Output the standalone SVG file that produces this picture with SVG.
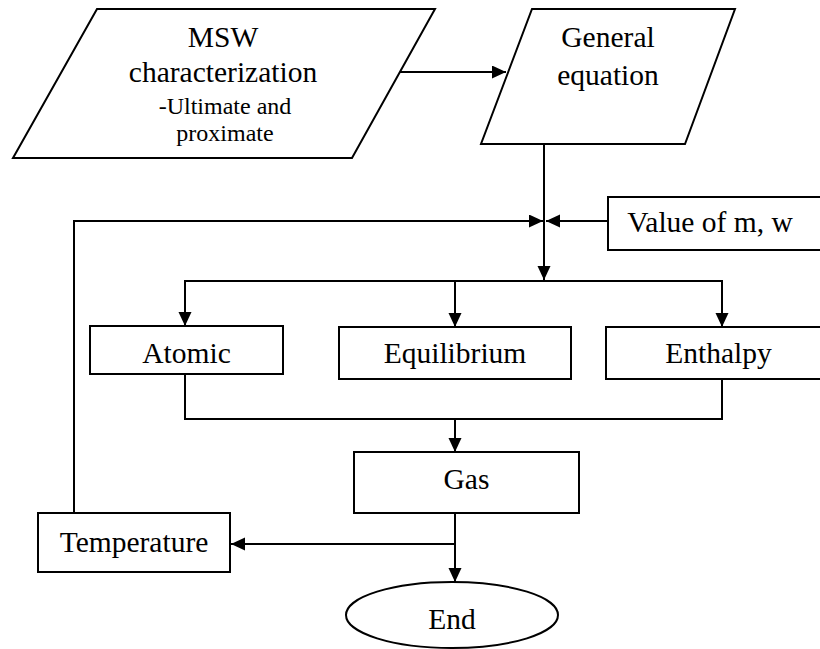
<svg xmlns="http://www.w3.org/2000/svg" width="820" height="649" viewBox="0 0 820 649">
<style>
.shape{fill:#fff;stroke:#000;stroke-width:2}
.conn{fill:none;stroke:#000;stroke-width:2}
text{font-family:"Liberation Serif","Times New Roman",serif;font-size:29.5px;fill:#000;text-anchor:middle}
.small{font-size:24px}
</style>
<defs>
<marker id="arr" markerUnits="userSpaceOnUse" markerWidth="14" markerHeight="14" refX="14" refY="6.5" orient="auto">
<path d="M0,0 L14,6.5 L0,13 z" fill="#000"/>
</marker>
</defs>
<rect width="820" height="649" fill="#fff"/>
<g id="connectors">
<line class="conn" x1="400" y1="72" x2="506" y2="72" marker-end="url(#arr)"/>
<line class="conn" x1="544" y1="144" x2="544" y2="280" marker-end="url(#arr)"/>
<polyline class="conn" points="74,513 74,221 543,221" marker-end="url(#arr)"/>
<line class="conn" x1="608" y1="221" x2="546" y2="221" marker-end="url(#arr)"/>
<line class="conn" x1="185" y1="281" x2="722" y2="281"/>
<line class="conn" x1="185" y1="280" x2="185" y2="326" marker-end="url(#arr)"/>
<line class="conn" x1="455" y1="281" x2="455" y2="327" marker-end="url(#arr)"/>
<line class="conn" x1="722" y1="280" x2="722" y2="327" marker-end="url(#arr)"/>
<polyline class="conn" points="185,374 185,419 722,419 722,379"/>
<line class="conn" x1="455" y1="419" x2="455" y2="452" marker-end="url(#arr)"/>
<line class="conn" x1="455" y1="513" x2="455" y2="582" marker-end="url(#arr)"/>
<line class="conn" x1="455" y1="544" x2="231" y2="544" marker-end="url(#arr)"/>
</g>
<g id="msw">
<polygon class="shape" points="97,9 435,9 352,158 13,158"/>
<text x="223" y="47">MSW</text>
<text x="223" y="82">characterization</text>
<text class="small" x="225" y="114">-Ultimate and</text>
<text class="small" x="225" y="141">proximate</text>
</g>
<g id="general">
<polygon class="shape" points="532,9 735,9 685,144 481,144"/>
<text x="608" y="47">General</text>
<text x="608" y="85">equation</text>
</g>
<g id="value">
<rect class="shape" x="608" y="197" width="214" height="53"/>
<text x="710" y="232">Value of m, w</text>
</g>
<g id="atomic">
<rect class="shape" x="90" y="326" width="193" height="48"/>
<text x="186.5" y="363">Atomic</text>
</g>
<g id="equilibrium">
<rect class="shape" x="339" y="327" width="232" height="52"/>
<text x="455" y="363">Equilibrium</text>
</g>
<g id="enthalpy">
<rect class="shape" x="606" y="327" width="225" height="52"/>
<text x="718.5" y="363">Enthalpy</text>
</g>
<g id="gas">
<rect class="shape" x="354" y="452" width="225" height="61"/>
<text x="466.5" y="489">Gas</text>
</g>
<g id="temperature">
<rect class="shape" x="38" y="513" width="192" height="59"/>
<text x="134" y="552">Temperature</text>
</g>
<g id="end">
<ellipse class="shape" cx="452" cy="615" rx="106" ry="33"/>
<text x="452" y="629">End</text>
</g>
</svg>
